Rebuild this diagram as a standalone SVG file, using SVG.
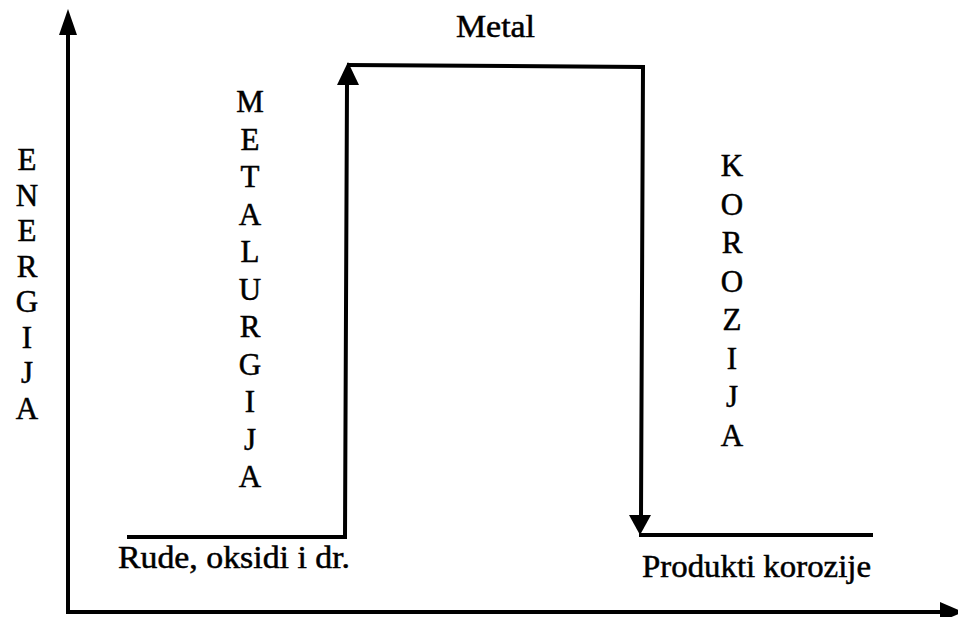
<svg xmlns="http://www.w3.org/2000/svg" width="958" height="617" viewBox="0 0 958 617">
<style>
text{font-family:"Liberation Serif","Times New Roman","DejaVu Serif",serif;font-size:31px;fill:#000;stroke:#000;stroke-width:0.5}
.v{text-anchor:middle}
.ln{stroke:#000;stroke-width:4;fill:none;stroke-linejoin:miter}
.hd{fill:#000;stroke:none}
</style>
<rect width="958" height="617" fill="#fff"/>
<g id="axes">
<line class="ln" x1="68" y1="614" x2="68" y2="30"/>
<polygon class="hd" points="68,9 59,35 77,35"/>
<line class="ln" x1="66" y1="612" x2="942" y2="612"/>
<polygon class="hd" points="940,602 940,622 963,612"/>
</g>
<g id="connectors">
<polyline class="ln" points="127,537 345,537 347,84"/>
<polygon class="hd" points="348,62 337,85 359,85"/>
<polyline class="ln" points="347,65 643,67 641,518"/>
<polygon class="hd" points="629,515 651,515 640,535"/>
<line class="ln" x1="639" y1="535" x2="873" y2="535"/>
</g>
<g id="metal"><text x="456" y="37" textLength="79" lengthAdjust="spacingAndGlyphs">Metal</text></g>
<g id="rude"><text x="118" y="568" textLength="232" lengthAdjust="spacingAndGlyphs">Rude, oksidi i dr.</text></g>
<g id="produkti"><text x="642" y="577" textLength="229" lengthAdjust="spacingAndGlyphs">Produkti korozije</text></g>
<g id="energija" class="v">
<text x="27" y="170">E</text><text x="27" y="205.5">N</text><text x="27" y="241">E</text><text x="27" y="276.5">R</text><text x="27" y="312">G</text><text x="27" y="347.5">I</text><text x="27" y="383">J</text><text x="27" y="418.5">A</text>
</g>
<g id="metalurgija" class="v">
<text x="250" y="112">M</text><text x="250" y="149.5">E</text><text x="250" y="187">T</text><text x="250" y="224.5">A</text><text x="250" y="262">L</text><text x="250" y="299.5">U</text><text x="250" y="337">R</text><text x="250" y="374.5">G</text><text x="250" y="412">I</text><text x="250" y="449.5">J</text><text x="250" y="487">A</text>
</g>
<g id="korozija" class="v">
<text x="732" y="176">K</text><text x="732" y="214.5">O</text><text x="732" y="253">R</text><text x="732" y="291.5">O</text><text x="732" y="330">Z</text><text x="732" y="368.5">I</text><text x="732" y="407">J</text><text x="732" y="445.5">A</text>
</g>
</svg>
